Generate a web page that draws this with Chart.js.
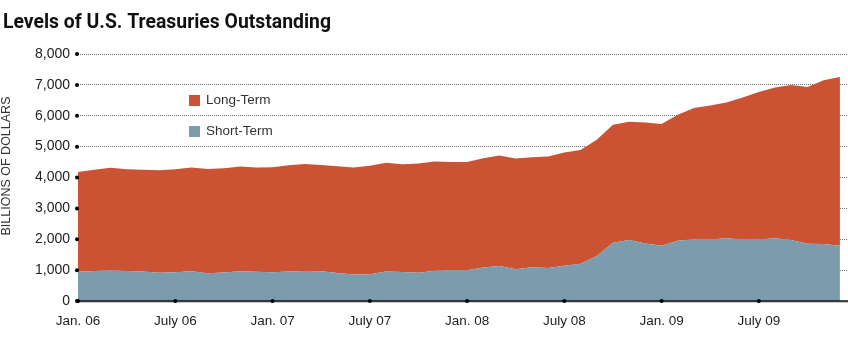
<!DOCTYPE html>
<html>
<head>
<meta charset="utf-8">
<script src="https://cdn.jsdelivr.net/npm/chart.js@4/dist/chart.umd.min.js"></script>
<style>
  html, body { margin: 0; padding: 0; background: #fff; }
</style>
</head>
<body>
<canvas id="Graph" width="848" height="339"></canvas>
<script>
const chartTitle = "Levels of U.S. Treasuries Outstanding";
const yTitle = "BILLIONS OF DOLLARS";

const months = [
    "Jan. 06","Feb. 06","Mar. 06","Apr. 06","May 06","June 06","July 06","Aug. 06","Sept. 06","Oct. 06","Nov. 06","Dec. 06",
    "Jan. 07","Feb. 07","Mar. 07","Apr. 07","May 07","June 07","July 07","Aug. 07","Sept. 07","Oct. 07","Nov. 07","Dec. 07",
    "Jan. 08","Feb. 08","Mar. 08","Apr. 08","May 08","June 08","July 08","Aug. 08","Sept. 08","Oct. 08","Nov. 08","Dec. 08",
    "Jan. 09","Feb. 09","Mar. 09","Apr. 09","May 09","June 09","July 09","Aug. 09","Sept. 09","Oct. 09","Nov. 09","Dec. 09"
];
// months that get a label on the x axis
const tickMonths = ["Jan. 06","July 06","Jan. 07","July 07","Jan. 08","July 08","Jan. 09","July 09"];

// billions of dollars
const shortTerm = [
    945, 975, 1000, 975, 955, 912, 935, 965, 900, 920, 965, 945,
    935, 955, 975, 965, 903, 860, 870, 958, 940, 918, 980, 1000,
    1000, 1087, 1130, 1032, 1097, 1065, 1145, 1205, 1455, 1886, 1974, 1866,
    1789, 1951, 1996, 1990, 2029, 1990, 1990, 2029, 1974, 1854, 1843, 1789
];
const longTerm = [
    3237, 3272, 3312, 3294, 3292, 3325, 3334, 3357, 3379, 3380, 3389, 3377,
    3398, 3444, 3466, 3443, 3464, 3462, 3507, 3516, 3491, 3534, 3537, 3506,
    3506, 3540, 3582, 3583, 3561, 3615, 3665, 3685, 3765, 3822, 3831, 3917,
    3941, 4081, 4254, 4346, 4403, 4605, 4779, 4890, 5023, 5078, 5303, 5467
];

const red = "#cb5232";
const blue = "#7b9cac";

function points(arr){
    return arr.map((v, i) => ({x: i, y: v}));
}

const tickIdx = tickMonths.map(m => months.indexOf(m));

function dot(ctx, x, y){
    ctx.beginPath();
    ctx.arc(x, y, 2, 0, Math.PI * 2);
    ctx.fill();
}

const decorations = {
    id: "decorations",
    afterDraw(chart){
        const ctx = chart.ctx;
        const area = chart.chartArea;
        const xs = chart.scales.x, ys = chart.scales.y;
        ctx.save();

        // title
        ctx.fillStyle = "#111";
        ctx.font = "bold 21px Roboto";
        ctx.textAlign = "left";
        ctx.textBaseline = "alphabetic";
        ctx.fillText(chartTitle, 3, 28, 328);

        // y axis title
        ctx.save();
        ctx.translate(7, 166);
        ctx.rotate(-Math.PI / 2);
        ctx.font = "12.5px 'Liberation Sans'";
        ctx.fillStyle = "#333";
        ctx.textAlign = "center";
        ctx.textBaseline = "middle";
        ctx.fillText(yTitle, 0, 0);
        ctx.restore();

        // zero line
        const y0 = ys.getPixelForValue(0);
        ctx.fillStyle = "#c8c8c8";
        ctx.fillRect(area.left, y0 + 0.5, area.right - area.left, 1.5);
        ctx.strokeStyle = "#111";
        ctx.lineWidth = 1.5;
        ctx.beginPath();
        ctx.moveTo(area.left - 1, y0);
        ctx.lineTo(area.right, y0);
        ctx.stroke();

        // dots on the axes
        ctx.fillStyle = "#000";
        ys.ticks.forEach(t => dot(ctx, area.left - 1, ys.getPixelForValue(t.value)));
        tickIdx.forEach(i => dot(ctx, xs.getPixelForValue(i), y0));

        // legend
        ctx.font = "13.5px 'Liberation Sans'";
        ctx.textAlign = "left";
        ctx.textBaseline = "middle";
        const items = [[chart.data.datasets[1], 95], [chart.data.datasets[0], 126]];
        items.forEach(([ds, top]) => {
            ctx.fillStyle = ds.backgroundColor;
            ctx.fillRect(189, top, 11, 11);
            ctx.fillStyle = "#333";
            ctx.fillText(ds.label, 206, top + 5.5);
        });

        ctx.restore();
    }
};

new Chart("Graph", {
    type: "line",
    data: {
        datasets: [
            {
                label: "Short-Term",
                data: points(shortTerm),
                backgroundColor: blue,
                borderWidth: 0,
                pointRadius: 0,
                fill: "origin"
            },
            {
                label: "Long-Term",
                data: points(longTerm),
                backgroundColor: red,
                borderWidth: 0,
                pointRadius: 0,
                fill: "-1"
            }
        ]
    },
    options: {
        responsive: false,
        animation: false,
        layout: {padding: {top: 54, right: 0, bottom: 0, left: 0}},
        plugins: {
            legend: {display: false},
            tooltip: {enabled: false},
            title: {display: false}
        },
        scales: {
            x: {
                type: "linear",
                min: 0,
                max: 47.5,
                grid: {display: false},
                border: {display: false},
                afterFit: s => { s.height = 38; },
                afterBuildTicks: s => { s.ticks = tickIdx.map(v => ({value: v})); },
                ticks: {
                    autoSkip: false,
                    maxRotation: 0,
                    padding: 4,
                    color: "#222",
                    font: {family: "'Liberation Sans'", size: 13.5},
                    callback: v => months[v]
                }
            },
            y: {
                stacked: true,
                min: 0,
                max: 8000,
                z: 1,
                afterFit: s => { s.width = 78; },
                grid: {
                    drawTicks: false,
                    color: "rgba(0,0,0,0.55)",
                    lineWidth: 1
                },
                border: {display: false, dash: [1, 1]},
                ticks: {
                    stepSize: 1000,
                    padding: 8,
                    color: "#222",
                    font: {family: "'Liberation Sans'", size: 14},
                    callback: v => v.toLocaleString("en-US")
                }
            }
        }
    },
    plugins: [decorations]
});
</script>
</body>
</html>
